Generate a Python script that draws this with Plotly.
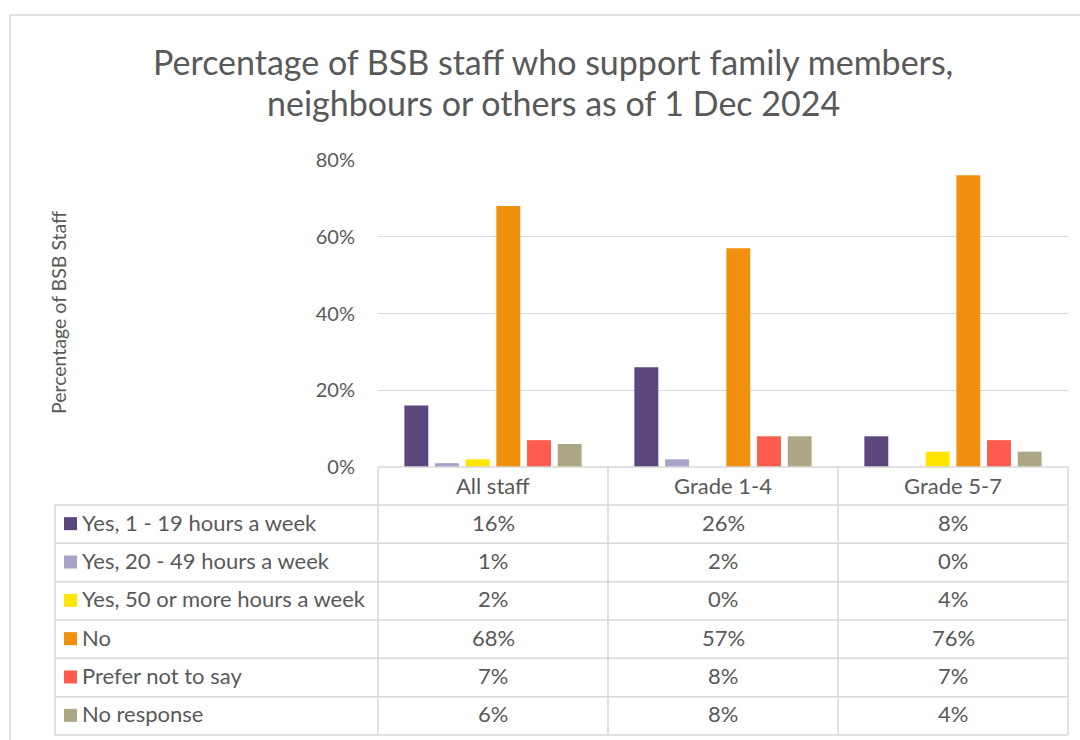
import plotly.graph_objects as go

# Data
categories = ["All staff", "Grade 1-4", "Grade 5-7"]
series_names = [
    "Yes, 1 - 19 hours a week",
    "Yes, 20 - 49 hours a week",
    "Yes, 50 or more hours a week",
    "No",
    "Prefer not to say",
    "No response",
]
yes_1_19 = [16, 26, 8]
yes_20_49 = [1, 2, 0]
yes_50_plus = [2, 0, 4]
no = [68, 57, 76]
prefer_not = [7, 8, 7]
no_response = [6, 8, 4]
series_values = [yes_1_19, yes_20_49, yes_50_plus, no, prefer_not, no_response]
y_ticks = [0, 20, 40, 60, 80]
y_tick_labels = ["0%", "20%", "40%", "60%", "80%"]
title_lines = ["Percentage of BSB staff who support family members,",
               "neighbours or others as of 1 Dec 2024"]

colors = ["#5C467C", "#A8A3C9", "#FFE500", "#F0900C", "#FF5B4F", "#ADA785"]

W, H = 1080, 740
FONT = "Lato"
TXT = "#595959"
GRID = "#D9D9D9"
TABLE_FS = 22


def X(px):
    return px / W


def Y(py):
    return 1 - py / H


# Plot area (pixels)
PL, PR, PT, PB = 378, 1068, 160, 467

fig = go.Figure()
for name, vals, col in zip(series_names, series_values, colors):
    fig.add_trace(go.Bar(
        name=name, x=categories, y=vals, marker_color=col,
        marker_line_width=0, showlegend=False,
        hovertemplate="%{x}: %{y}%<extra>" + name + "</extra>",
    ))

fig.update_layout(
    width=W, height=H,
    margin=dict(l=0, r=0, t=0, b=0, autoexpand=False),
    paper_bgcolor="white", plot_bgcolor="white",
    barmode="group", bargap=0.2, bargroupgap=0.22,
    font=dict(family=FONT, color=TXT),
    xaxis=dict(domain=[X(PL), X(PR)], showticklabels=False, showgrid=False,
               zeroline=False, showline=False, ticks="", automargin=False),
    yaxis=dict(domain=[Y(PB), Y(PT)], range=[0, 80], tickvals=y_ticks,
               ticktext=y_tick_labels, showgrid=True, gridcolor=GRID,
               gridwidth=1.3, zeroline=False, showline=False, ticks="",
               tickfont=dict(size=20, color=TXT), ticklabelstandoff=22,
               automargin=False),
)

# Chart title, one annotation per line
for line, cy in zip(title_lines, [61, 102]):
    fig.add_annotation(
        x=X(553), y=Y(cy), xref="paper", yref="paper", showarrow=False,
        text=line, font=dict(size=34, color=TXT, family=FONT),
        xanchor="center", yanchor="middle",
    )

# Y-axis title
fig.add_annotation(
    x=X(58), y=Y(313), xref="paper", yref="paper", showarrow=False,
    text="Percentage of BSB Staff", textangle=-90,
    font=dict(size=19.5, color=TXT, family=FONT),
    xanchor="center", yanchor="middle",
)

shapes = []


def hline(x0, x1, y):
    shapes.append(dict(type="line", xref="paper", yref="paper",
                       x0=X(x0), x1=X(x1), y0=Y(y), y1=Y(y),
                       line=dict(color=GRID, width=1.5)))


def vline(x, y0, y1):
    shapes.append(dict(type="line", xref="paper", yref="paper",
                       x0=X(x), x1=X(x), y0=Y(y0), y1=Y(y1),
                       line=dict(color=GRID, width=1.5)))


# Outer chart border
shapes.append(dict(type="rect", xref="paper", yref="paper",
                   x0=X(10), x1=X(1095), y0=Y(15), y1=Y(755),
                   line=dict(color=GRID, width=1.5), fillcolor="rgba(0,0,0,0)"))

# Data table grid
col_edges = [PL, 608, 838, PR]
header_top, header_bot = PB, 505
row_h = (735 - header_bot) / len(series_names)
row_edges = [header_bot + i * row_h for i in range(len(series_names) + 1)]
legend_left = 55

hline(PL, PR, header_top)
for ry in row_edges:
    hline(legend_left, PR, ry)
for cx in col_edges:
    vline(cx, header_top, row_edges[-1])
vline(legend_left, row_edges[0], row_edges[-1])

# Category headers
for i, cat in enumerate(categories):
    cx = (col_edges[i] + col_edges[i + 1]) / 2
    fig.add_annotation(x=X(cx), y=Y((header_top + header_bot) / 2 - 1),
                       xref="paper", yref="paper", showarrow=False, text=cat,
                       font=dict(size=TABLE_FS, color=TXT, family=FONT),
                       xanchor="center", yanchor="middle")

# Rows: legend key, series name, values
for r, (name, vals, col) in enumerate(zip(series_names, series_values, colors)):
    cy = (row_edges[r] + row_edges[r + 1]) / 2
    shapes.append(dict(type="rect", xref="paper", yref="paper",
                       x0=X(64), x1=X(77), y0=Y(cy - 7), y1=Y(cy + 6),
                       line=dict(width=0), fillcolor=col))
    fig.add_annotation(x=X(80), y=Y(cy - 2), xref="paper", yref="paper",
                       showarrow=False, text=name,
                       font=dict(size=TABLE_FS, color=TXT, family=FONT),
                       xanchor="left", yanchor="middle")
    for i, v in enumerate(vals):
        cx = (col_edges[i] + col_edges[i + 1]) / 2
        fig.add_annotation(x=X(cx), y=Y(cy - 2), xref="paper", yref="paper",
                           showarrow=False, text=f"{v}%",
                           font=dict(size=TABLE_FS, color=TXT, family=FONT),
                           xanchor="center", yanchor="middle")

fig.update_layout(shapes=shapes)

fig.write_html("out.html")
